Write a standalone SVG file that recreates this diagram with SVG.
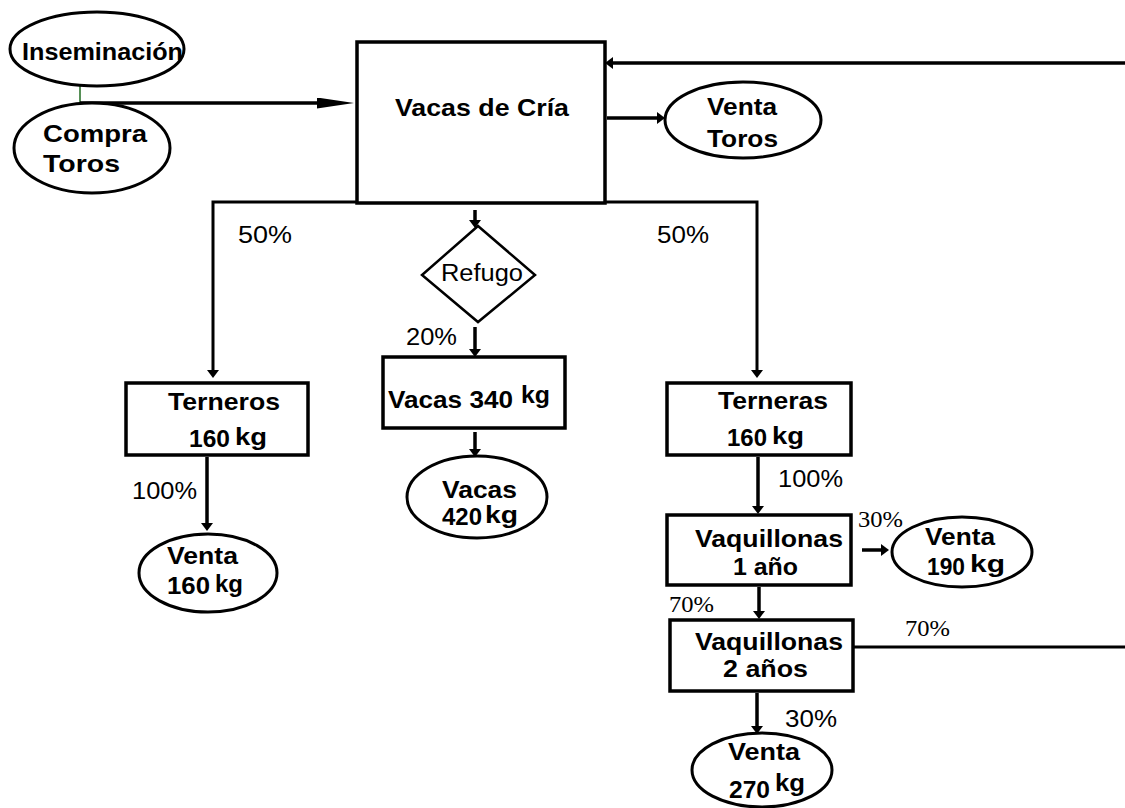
<svg xmlns="http://www.w3.org/2000/svg" width="1125" height="808" viewBox="0 0 1125 808">
  <style>
    .box { fill: #fff; stroke: #000; stroke-width: 3.5; }
    .oval { fill: #fff; stroke: #000; stroke-width: 3; }
    .diam { fill: #fff; stroke: #000; stroke-width: 2.5; }
    .ln { fill: none; stroke: #000; stroke-width: 3.5; }
    .thin { fill: none; stroke: #000; stroke-width: 3; }
    .b { font-family: "Liberation Sans", Arial, sans-serif; font-weight: bold; font-size: 24px; fill: #000; }
    .r { font-family: "Liberation Sans", Arial, sans-serif; font-size: 23px; fill: #000; }
    .s { font-family: "Liberation Serif", "Times New Roman", "DejaVu Serif", serif; font-size: 23px; fill: #000; }
  </style>
  <defs>
    <marker id="ah" viewBox="0 0 8 12" refX="0" refY="6" markerWidth="8" markerHeight="12" markerUnits="userSpaceOnUse" orient="auto">
      <path d="M0,0 L8,6 L0,12 Z" fill="#000"/>
    </marker>
    <marker id="ahLong" viewBox="0 0 37 11" refX="0" refY="5.5" markerWidth="37" markerHeight="11" markerUnits="userSpaceOnUse" orient="auto">
      <path d="M0,0 L37,5.5 L0,11 Z" fill="#000"/>
    </marker>
  </defs>

  <!-- connectors -->
  <g id="connectors">
    <line x1="80" y1="84" x2="80" y2="103" stroke="#1f6b1f" stroke-width="1.5"/>
    <line class="ln" x1="80" y1="103" x2="317" y2="103" stroke-width="5" marker-end="url(#ahLong)"/>
    <line class="ln" x1="1125" y1="63" x2="613" y2="63" stroke-width="4" marker-end="url(#ah)"/>
    <line class="ln" x1="607" y1="118" x2="657" y2="118" stroke-width="4.5" marker-end="url(#ah)"/>
    <path class="thin" d="M357,202 H213 V370" marker-end="url(#ah)"/>
    <path class="thin" d="M605,202 H757 V370" marker-end="url(#ah)"/>
    <line class="ln" x1="475" y1="210" x2="475" y2="220" stroke-width="4" marker-end="url(#ah)"/>
    <line class="ln" x1="475" y1="327" x2="475" y2="349" stroke-width="4" marker-end="url(#ah)"/>
    <line class="ln" x1="475" y1="432" x2="475" y2="449" stroke-width="4" marker-end="url(#ah)"/>
    <line class="ln" x1="207" y1="457" x2="207" y2="523" stroke-width="4" marker-end="url(#ah)"/>
    <line class="ln" x1="758" y1="457" x2="758" y2="506" stroke-width="4" marker-end="url(#ah)"/>
    <line class="ln" x1="862" y1="550" x2="881" y2="550" stroke-width="4" marker-end="url(#ah)"/>
    <line class="ln" x1="759" y1="587" x2="759" y2="611" stroke-width="4" marker-end="url(#ah)"/>
    <line class="thin" x1="853" y1="647" x2="1125" y2="647"/>
    <line class="ln" x1="757" y1="693" x2="757" y2="726" stroke-width="4" marker-end="url(#ah)"/>
  </g>

  <!-- flow percentages -->
  <g id="labels">
    <text class="r" x="238" y="243" textLength="54" lengthAdjust="spacingAndGlyphs">50%</text>
    <text class="r" x="657" y="243" textLength="52" lengthAdjust="spacingAndGlyphs">50%</text>
    <text class="r" x="406" y="345" textLength="51" lengthAdjust="spacingAndGlyphs">20%</text>
    <text class="r" x="132" y="499" textLength="65" lengthAdjust="spacingAndGlyphs">100%</text>
    <text class="r" x="778" y="487" textLength="65" lengthAdjust="spacingAndGlyphs">100%</text>
    <text class="s" x="858" y="527" textLength="45" lengthAdjust="spacingAndGlyphs">30%</text>
    <text class="s" x="669" y="612" textLength="45" lengthAdjust="spacingAndGlyphs">70%</text>
    <text class="s" x="905" y="636" textLength="45" lengthAdjust="spacingAndGlyphs">70%</text>
    <text class="r" x="785" y="727" textLength="52" lengthAdjust="spacingAndGlyphs">30%</text>
  </g>

  <g id="inseminacion">
    <ellipse class="oval" cx="97" cy="49" rx="87" ry="37"/>
    <text class="b" x="22" y="60" textLength="161" lengthAdjust="spacingAndGlyphs">Inseminación</text>
  </g>

  <g id="compra-toros">
    <ellipse class="oval" cx="92" cy="148" rx="78" ry="45"/>
    <text class="b" x="43" y="142" textLength="104" lengthAdjust="spacingAndGlyphs">Compra</text>
    <text class="b" x="43" y="172" textLength="77" lengthAdjust="spacingAndGlyphs">Toros</text>
  </g>

  <g id="vacas-cria">
    <rect class="box" x="357" y="42" width="248" height="161"/>
    <text class="b" x="395" y="116" textLength="174" lengthAdjust="spacingAndGlyphs">Vacas de Cría</text>
  </g>

  <g id="venta-toros">
    <ellipse class="oval" cx="743" cy="120" rx="78" ry="38"/>
    <text class="b" x="707" y="115" textLength="70" lengthAdjust="spacingAndGlyphs">Venta</text>
    <text class="b" x="707" y="147" textLength="71" lengthAdjust="spacingAndGlyphs">Toros</text>
  </g>

  <g id="refugo">
    <polygon class="diam" points="478,226 535,275 478,322 422,275"/>
    <text class="r" x="441" y="281" textLength="82" lengthAdjust="spacingAndGlyphs">Refugo</text>
  </g>

  <g id="terneros">
    <rect class="box" x="126" y="383" width="182" height="72"/>
    <text class="b" x="168" y="410" textLength="112" lengthAdjust="spacingAndGlyphs">Terneros</text>
    <text class="b" x="189" y="447" textLength="41" lengthAdjust="spacingAndGlyphs">160</text>
    <text class="b" x="235" y="445" textLength="32" lengthAdjust="spacingAndGlyphs">kg</text>
  </g>

  <g id="vacas-340">
    <rect class="box" x="383" y="357" width="182" height="71"/>
    <text class="b" x="388" y="408" textLength="125" lengthAdjust="spacingAndGlyphs">Vacas 340</text>
    <text class="b" x="521" y="403" textLength="29" lengthAdjust="spacingAndGlyphs">kg</text>
  </g>

  <g id="vacas-420">
    <ellipse class="oval" cx="477" cy="497" rx="70" ry="41"/>
    <text class="b" x="442" y="498" textLength="75" lengthAdjust="spacingAndGlyphs">Vacas</text>
    <text class="b" x="442" y="525" textLength="40" lengthAdjust="spacingAndGlyphs">420</text>
    <text class="b" x="485" y="523" textLength="33" lengthAdjust="spacingAndGlyphs">kg</text>
  </g>

  <g id="venta-160">
    <ellipse class="oval" cx="208" cy="573" rx="69" ry="39"/>
    <text class="b" x="167" y="564" textLength="71" lengthAdjust="spacingAndGlyphs">Venta</text>
    <text class="b" x="167" y="594" textLength="43" lengthAdjust="spacingAndGlyphs">160</text>
    <text class="b" x="215" y="592" textLength="28" lengthAdjust="spacingAndGlyphs">kg</text>
  </g>

  <g id="terneras">
    <rect class="box" x="667" y="383" width="184" height="72"/>
    <text class="b" x="718" y="409" textLength="110" lengthAdjust="spacingAndGlyphs">Terneras</text>
    <text class="b" x="727" y="446" textLength="40" lengthAdjust="spacingAndGlyphs">160</text>
    <text class="b" x="772" y="444" textLength="32" lengthAdjust="spacingAndGlyphs">kg</text>
  </g>

  <g id="vaquillonas-1">
    <rect class="box" x="667" y="515" width="184" height="70"/>
    <text class="b" x="695" y="547" textLength="148" lengthAdjust="spacingAndGlyphs">Vaquillonas</text>
    <text class="b" x="733" y="575" textLength="65" lengthAdjust="spacingAndGlyphs">1 año</text>
  </g>

  <g id="venta-190">
    <ellipse class="oval" cx="962" cy="552" rx="70" ry="35"/>
    <text class="b" x="925" y="545" textLength="70" lengthAdjust="spacingAndGlyphs">Venta</text>
    <text class="b" x="927" y="575" textLength="38" lengthAdjust="spacingAndGlyphs">190</text>
    <text class="b" x="970" y="572" textLength="35" lengthAdjust="spacingAndGlyphs">kg</text>
  </g>

  <g id="vaquillonas-2">
    <rect class="box" x="670" y="620" width="183" height="71"/>
    <text class="b" x="695" y="650" textLength="148" lengthAdjust="spacingAndGlyphs">Vaquillonas</text>
    <text class="b" x="723" y="677" textLength="85" lengthAdjust="spacingAndGlyphs">2 años</text>
  </g>

  <g id="venta-270">
    <ellipse class="oval" cx="762" cy="770" rx="70" ry="37"/>
    <text class="b" x="728" y="760" textLength="72" lengthAdjust="spacingAndGlyphs">Venta</text>
    <text class="b" x="729" y="798" textLength="41" lengthAdjust="spacingAndGlyphs">270</text>
    <text class="b" x="775" y="791" textLength="30" lengthAdjust="spacingAndGlyphs">kg</text>
  </g>
</svg>
